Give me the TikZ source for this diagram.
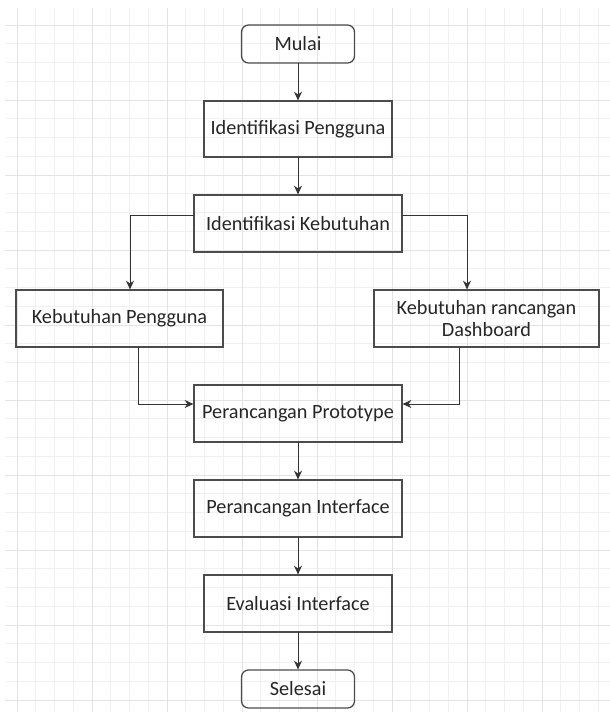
\documentclass[tikz,border=0pt]{standalone}
\usepackage{fontspec}
\setmainfont{Carlito}
\usetikzlibrary{positioning,calc,arrows.meta}

\begin{document}
\begin{tikzpicture}[node distance=0.95cm,
			box/.style={draw=black!70, line width=0.9pt, rectangle, outer sep=0pt, minimum height=1.425cm, align=center, inner sep=2pt, text=black!85, font=\fontsize{14.4}{16}\selectfont},
			terminal/.style={box, rounded corners=5pt, minimum width=2.825cm, minimum height=0.95cm},
			arrow/.style={-{Stealth[length=2.2mm,width=2mm]}, black!80, line width=0.7pt, shorten >=0.4pt},
			gridminor/.style={black!6, line width=0.4pt},
			gridmajor/.style={black!11, line width=0.6pt}]
			\useasboundingbox (0,0) rectangle (15.25,-17.8);
			\fill[white] (0,0) rectangle (15.25,-17.8);
			\begin{scope}[shift={(0.425,-0.625)}]
				\draw[gridminor, step=0.46875] (-0.3,0.425) grid (14.825,-17.175);
				\draw[gridmajor, step=1.875] (-0.3,0.425) grid (14.825,-17.175);
			\end{scope}
			
			\node[terminal] (mulai) at (7.45,-1.1) {Mulai};
			\node[box, minimum width=4.7cm, minimum height=1.4cm, below=of mulai] (idpengguna) {Identifikasi Pengguna};
			\node[box, minimum width=5.2cm, below=of idpengguna] (idkebutuhan) {Identifikasi Kebutuhan};
			\node[box, minimum width=5.175cm, below=of idkebutuhan, xshift=-4.4625cm] (kebpengguna) {Kebutuhan Pengguna};
			\node[box, minimum width=5.625cm, below=of idkebutuhan, xshift=4.7125cm] (kebdashboard) {Kebutuhan rancangan\\Dashboard};
			\coordinate (tengah) at (idkebutuhan.south |- kebpengguna.south);
			\node[box, minimum width=5.2cm, below=of tengah] (prototype) {Perancangan Prototype};
			\node[box, minimum width=5.2cm, below=of prototype] (interface) {Perancangan Interface};
			\node[box, minimum width=4.7cm, below=of interface] (evaluasi) {Evaluasi Interface};
			\node[terminal, below=of evaluasi] (selesai) {Selesai};
			
			\draw[arrow] (mulai) -- (idpengguna);
			\draw[arrow] (idpengguna) -- (idkebutuhan);
			\draw[arrow] ($(idkebutuhan.west)+(0,0.2125)$) -| ($(kebpengguna.north)+(0.2625,0)$);
			\draw[arrow] ($(idkebutuhan.east)+(0,0.2125)$) -| ($(kebdashboard.north)+(-0.4875,0)$);
			\draw[arrow] ($(kebpengguna.south)+(0.4625,0)$) |- ($(prototype.west)+(0,0.2375)$);
			\draw[arrow] ($(kebdashboard.south)+(-0.6875,0)$) |- ($(prototype.east)+(0,0.2375)$);
			\draw[arrow] (prototype) -- (interface);
			\draw[arrow] (interface) -- (evaluasi);
			\draw[arrow] (evaluasi) -- (selesai);
		\end{tikzpicture}
\end{document}
